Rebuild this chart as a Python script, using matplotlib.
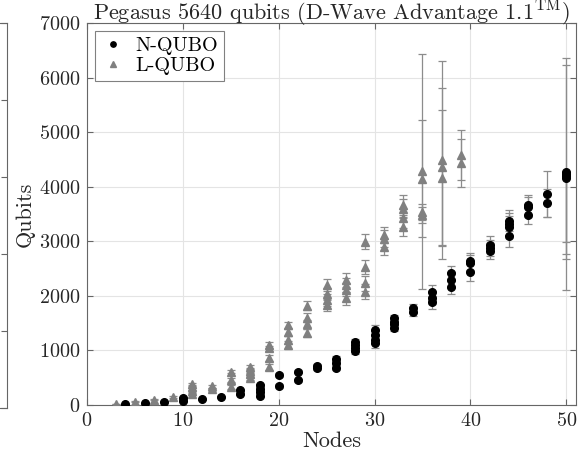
import matplotlib
matplotlib.use('Agg')
import matplotlib.pyplot as plt

plt.rcParams['font.family'] = 'serif'
plt.rcParams['font.serif'] = ['cmr10']
plt.rcParams['mathtext.fontset'] = 'cm'
plt.rcParams['axes.formatter.use_mathtext'] = True

# N-QUBO
nodes_n = [4, 6, 8, 10, 10, 12, 14, 16, 16, 18, 18, 18, 18, 20, 20, 22, 22, 24, 24,
           26, 26, 26, 28, 28, 28, 28, 30, 30, 30, 30, 32, 32, 32, 32, 34, 34,
           36, 36, 36, 38, 38, 38, 40, 40, 40, 42, 42, 42, 44, 44, 44, 44,
           46, 46, 46, 48, 48, 50, 50, 50, 50]
qubits_n = [16, 36, 60, 80, 130, 110, 150, 200, 280, 170, 230, 300, 360, 350, 550, 450, 610, 680, 720,
            680, 770, 850, 990, 1050, 1100, 1160, 1140, 1200, 1280, 1370, 1420, 1480, 1530, 1590, 1700, 1770,
            1880, 1970, 2080, 2170, 2290, 2410, 2430, 2600, 2630, 2820, 2880, 2940, 3100, 3260, 3320, 3380,
            3490, 3630, 3670, 3700, 3870, 4160, 4200, 4230, 4270]
err_lo_n = [5, 8, 10, 15, 15, 15, 20, 20, 20, 25, 25, 25, 25, 30, 30, 30, 30, 40, 40,
            40, 40, 40, 50, 50, 50, 50, 90, 80, 80, 90, 60, 60, 60, 60, 75, 75,
            120, 120, 120, 140, 140, 140, 150, 150, 150, 150, 150, 150, 200, 200, 200, 200,
            180, 180, 180, 250, 420, 1485, 1433, 1237, 2163]
err_hi_n = [5, 8, 10, 15, 15, 15, 20, 20, 20, 25, 25, 25, 25, 30, 30, 30, 30, 40, 40,
            40, 40, 40, 50, 50, 50, 50, 90, 80, 80, 90, 60, 60, 60, 60, 75, 75,
            120, 120, 120, 140, 140, 140, 150, 150, 150, 150, 150, 150, 200, 200, 200, 200,
            180, 180, 180, 250, 420, 60, 60, 2000, 2090]

# L-QUBO
nodes_l = [3, 5, 7, 9, 11, 11, 11, 11, 13, 13, 15, 15, 15, 17, 17, 17, 17, 19, 19, 19, 19,
           21, 21, 21, 21, 23, 23, 23, 23, 25, 25, 25, 25, 27, 27, 27, 27, 29, 29, 29, 29,
           31, 31, 31, 33, 33, 33, 33, 35, 35, 35, 35, 37, 37, 37, 39, 39]
qubits_l = [18, 60, 95, 150, 200, 260, 330, 390, 290, 340, 330, 460, 610, 500, 560, 630, 700,
            700, 860, 1040, 1100, 1100, 1190, 1340, 1460, 1320, 1480, 1600, 1820,
            1830, 1930, 2040, 2200, 1960, 2110, 2200, 2290, 2080, 2230, 2530, 2990,
            2900, 3050, 3110, 3270, 3420, 3600, 3660, 3480, 3540, 4150, 4280,
            4160, 4370, 4490, 4430, 4580]
err_l = [5, 8, 10, 15, 20, 20, 20, 20, 25, 25, 30, 30, 30, 40, 40, 40, 40, 50, 50, 50, 50,
         70, 70, 70, 70, 80, 80, 80, 80, 110, 110, 110, 110, 120, 120, 120, 120, 135, 135, 135, 135,
         150, 150, 150, 180, 180, 180, 180, 150, 150, 1070, 2150, 1250, 1440, 1820, 440, 460]

fig = plt.figure(figsize=(5.84, 4.65), dpi=100)

# right edge of the neighbouring subplot
ax0 = fig.add_axes([-0.5, 0.1226, 0.512, 0.828])
ax0.set_ylim(0, 5)
ax0.set_yticks([0, 1, 2, 3, 4, 5])
ax0.set_xticks([])
ax0.tick_params(axis='y', direction='in', left=False, right=True,
                labelleft=False, length=4, color='0.4')
for s in ax0.spines.values():
    s.set_color('0.4')
    s.set_linewidth(0.8)

ax = fig.add_axes([0.149, 0.129, 0.837, 0.8215])

ax.errorbar(nodes_l, qubits_l, yerr=err_l, fmt='none', ecolor='#8c8c8c',
            elinewidth=0.9, capsize=3, capthick=0.9, zorder=2)
ax.errorbar(nodes_n, qubits_n, yerr=[err_lo_n, err_hi_n], fmt='none', ecolor='#8c8c8c',
            elinewidth=0.9, capsize=3, capthick=0.9, zorder=2)
ax.plot(nodes_n, qubits_n, 'o', color='black', ms=5.5, ls='none', label='N-QUBO', zorder=3)
ax.plot(nodes_l, qubits_l, '^', color='#808080', ms=5.5, ls='none', label='L-QUBO', zorder=3)

ax.set_xlim(0, 51)
ax.set_ylim(0, 7000)
ax.set_xticks([0, 10, 20, 30, 40, 50])
ax.set_yticks(range(0, 7001, 1000))
ax.grid(True, color='#e4e4e4', linewidth=0.8)
ax.set_axisbelow(True)
ax.tick_params(direction='in', top=True, right=True, length=4, color='0.4',
               labelsize=14.5, labelcolor='#262626', pad=5)
for s in ax.spines.values():
    s.set_color('0.4')
    s.set_linewidth(0.8)

ax.set_xlabel('Nodes', fontsize=16, color='#262626', labelpad=1)
ax.set_ylabel('Qubits', fontsize=16, color='#262626', labelpad=3)
ax.set_title(r'Pegasus 5640 qubits (D-Wave Advantage 1.1$^{\mathrm{TM}}$)',
             fontsize=16, color='#262626', pad=1.5)

leg = ax.legend(loc='upper left', fontsize=14.5, fancybox=False, edgecolor='0.5',
                framealpha=1, borderaxespad=0.4, handletextpad=0.5, markerscale=0.7,
                borderpad=0.3, labelspacing=0.1, handlelength=1.2)
leg.get_frame().set_linewidth(0.8)

fig.savefig('out.png', dpi=100)
